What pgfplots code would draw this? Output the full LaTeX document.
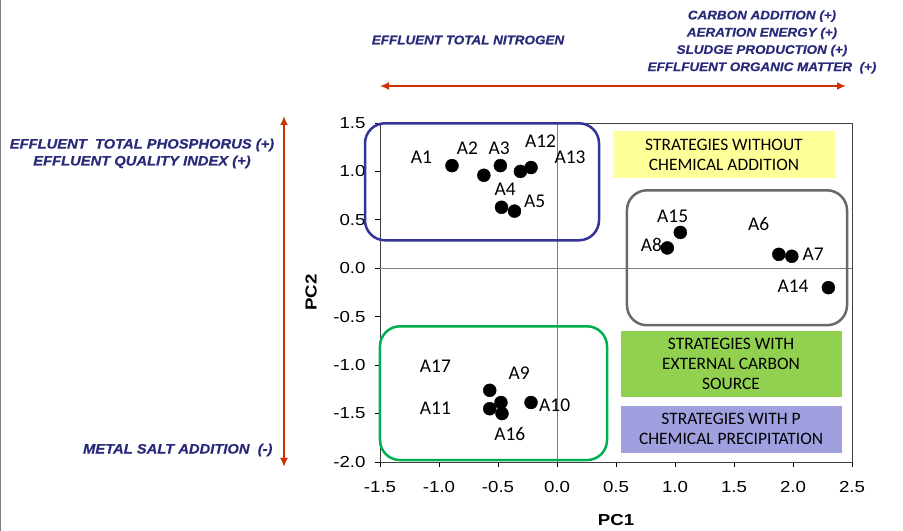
\documentclass[border=0pt]{standalone}
\usepackage{pgfplots}
\pgfplotsset{compat=1.18}
\usepackage{fontspec}
\setmainfont{Liberation Sans}
\newfontfamily\calib{Carlito}
\newfontfamily\tickfont[FakeStretch=1.17]{Liberation Sans}
\newfontface\annfont[FakeStretch=1.08, FakeBold=0.6]{Liberation Sans Bold Italic}
\usetikzlibrary{arrows.meta}
\definecolor{navytxt}{RGB}{42,42,122}
\definecolor{arrowred}{RGB}{204,51,0}
\definecolor{bluebox}{RGB}{51,51,153}
\definecolor{graybox}{RGB}{105,105,105}
\definecolor{greenbox}{RGB}{0,176,80}
\definecolor{yellowfill}{RGB}{255,255,153}
\definecolor{greenfill}{RGB}{146,208,80}
\definecolor{purplefill}{RGB}{160,160,224}
\begin{document}
\begin{tikzpicture}
\useasboundingbox (-380bp,-69bp) rectangle (523bp,462bp);
\draw[gray, line width=1bp] (-379.5bp,-69bp) -- (-379.5bp,462bp);
\begin{axis}[
  at={(0,0)}, anchor=south west,
  scale only axis, width=472bp, height=339bp,
  xmin=-1.5, xmax=2.5, ymin=-2, ymax=1.5,
  xtick={-1.5,-1,...,2.5}, ytick={-2,-1.5,...,1.5},
  tick align=outside, xtick pos=bottom, ytick pos=left,
  major tick length=5bp,
  tick style={black, line width=0.8bp},
  axis line style={black!75, line width=0.8bp},
  font=\tickfont\fontsize{16}{19}\selectfont,
  xticklabel style={yshift=-11bp, /pgf/number format/.cd, fixed, fixed zerofill, precision=1, assume math mode=true},
  yticklabel style={xshift=-6bp, /pgf/number format/.cd, fixed, fixed zerofill, precision=1, assume math mode=true},
  xlabel={\textbf{PC1}}, ylabel={\textbf{PC2}},
  x label style={at={(axis description cs:0.5,-0.171)}, anchor=center},
  y label style={at={(axis description cs:-0.146,0.5)}, anchor=center},
  clip=false,
]
% zero lines
\draw[gray, line width=0.8bp] (axis cs:0,-2) -- (axis cs:0,1.5);
\draw[gray, line width=0.8bp] (axis cs:-1.5,0) -- (axis cs:2.5,0);
% coloured category boxes
\fill[yellowfill] (axis cs:0.475,1.414) rectangle (axis cs:2.356,0.929);
\fill[greenfill] (axis cs:0.542,-0.650) rectangle (axis cs:2.415,-1.331);
\fill[purplefill] (axis cs:0.542,-1.424) rectangle (axis cs:2.415,-1.909);
\node[font=\calib\fontsize{17.5}{20}\selectfont, align=center] at (axis cs:1.415,1.166) {STRATEGIES WITHOUT\\CHEMICAL ADDITION};
\node[font=\calib\fontsize{17.5}{20}\selectfont, align=center] at (axis cs:1.475,-0.99) {STRATEGIES WITH\\EXTERNAL CARBON\\SOURCE};
\node[font=\calib\fontsize{17.5}{20}\selectfont, align=center] at (axis cs:1.475,-1.66) {STRATEGIES WITH P\\CHEMICAL PRECIPITATION};
% rounded group boxes
\draw[bluebox, line width=2.5bp, rounded corners=20bp] (axis cs:-1.627,1.497) rectangle (axis cs:0.356,0.289);
\draw[graybox, line width=2.5bp, rounded corners=20bp] (axis cs:0.593,0.805) rectangle (axis cs:2.458,-0.588);
\draw[greenbox, line width=2.5bp, rounded corners=20bp] (axis cs:-1.5,-0.599) rectangle (axis cs:0.424,-1.98);
% data
\addplot[only marks, mark=*, mark size=6.5bp, black] table {
x y
-0.89 1.06
-0.62 0.96
-0.48 1.06
-0.31 1.00
-0.22 1.04
-0.47 0.63
-0.36 0.59
1.045 0.37
0.935 0.21
1.88 0.144
1.99 0.124
2.30 -0.20
-0.57 -1.26
-0.475 -1.386
-0.57 -1.45
-0.466 -1.50
-0.22 -1.386
};
% point labels
\begin{scope}[every node/.style={font=\calib\fontsize{19.5}{22}\selectfont}]
\node at (axis cs:-1.15,1.15) {A1};
\node at (axis cs:-0.76,1.24) {A2};
\node at (axis cs:-0.49,1.24) {A3};
\node at (axis cs:-0.14,1.31) {A12};
\node at (axis cs:0.11,1.15) {A13};
\node at (axis cs:-0.44,0.82) {A4};
\node at (axis cs:-0.19,0.69) {A5};
\node at (axis cs:0.98,0.54) {A15};
\node at (axis cs:1.71,0.46) {A6};
\node at (axis cs:0.80,0.24) {A8};
\node at (axis cs:2.17,0.14) {A7};
\node at (axis cs:2.0,-0.19) {A14};
\node at (axis cs:-1.03,-1.01) {A17};
\node at (axis cs:-0.32,-1.08) {A9};
\node at (axis cs:-1.03,-1.44) {A11};
\node at (axis cs:-0.02,-1.41) {A10};
\node at (axis cs:-0.40,-1.71) {A16};
\end{scope}
\end{axis}
% outer annotations
\draw[arrowred, line width=2.5bp, {Latex[length=9bp,width=8bp]}-{Latex[length=9bp,width=8bp]}] (0bp,376bp) -- (466bp,376bp);
\draw[arrowred, line width=2.5bp, {Latex[length=9bp,width=8bp]}-{Latex[length=9bp,width=8bp]}] (-96bp,346bp) -- (-96bp,-5bp);
\begin{scope}[every node/.style={text=navytxt, align=center}]
\node[font=\annfont\fontsize{12.5}{17.3}\selectfont] at (88bp,422bp) {EFFLUENT TOTAL NITROGEN};
\node[font=\annfont\fontsize{12.5}{17.3}\selectfont] at (382bp,420bp) {CARBON ADDITION (+)\\AERATION ENERGY (+)\\SLUDGE PRODUCTION (+)\\EFFLFUENT ORGANIC MATTER\ \ (+)};
\node[font=\annfont\fontsize{13.7}{17}\selectfont] at (-238bp,308.5bp) {EFFLUENT\ \ TOTAL PHOSPHORUS (+)\\EFFLUENT QUALITY INDEX (+)};
\node[font=\annfont\fontsize{13.7}{17}\selectfont, anchor=east] at (-104bp,12bp) {METAL SALT ADDITION\ \ (-)};
\end{scope}
\end{tikzpicture}
\end{document}
